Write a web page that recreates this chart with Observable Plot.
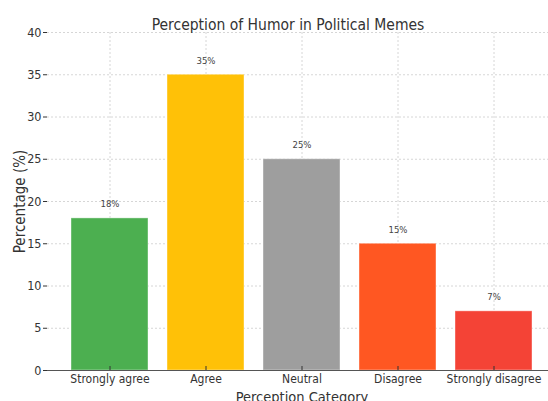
<!DOCTYPE html>
<html>
<head>
<meta charset="utf-8">
<script src="https://cdn.jsdelivr.net/npm/d3@7"></script>
<script src="https://cdn.jsdelivr.net/npm/@observablehq/plot@0.6"></script>
<style>
  html, body { margin: 0; padding: 0; background: #fff; }
  #chart svg { display: block; font-stretch: condensed; }
</style>
</head>
<body>
<div id="chart"></div>
<script>
const categories = ["Strongly agree", "Agree", "Neutral", "Disagree", "Strongly disagree"];
const percentages = [18, 35, 25, 15, 7];
const barColors = ["#4CAF50", "#FFC107", "#9E9E9E", "#FF5722", "#F44336"];
const yTicks = [0, 5, 10, 15, 20, 25, 30, 35, 40];
const titleText = "Perception of Humor in Political Memes";

const data = categories.map((c, i) => ({category: c, value: percentages[i], color: barColors[i]}));

const font = "'DejaVu Sans Condensed', 'DejaVu Sans', sans-serif";

const chart = Plot.plot({
  width: 548,
  height: 401,
  marginTop: 32,
  marginBottom: 31,
  marginLeft: 47,
  marginRight: -8,
  style: {fontFamily: font, fontSize: "11px", color: "#333", background: "#fff", overflow: "visible"},
  x: {domain: categories, paddingInner: 0.2, paddingOuter: 0.25, label: null},
  y: {domain: [0, 40], label: null},
  marks: [
    Plot.gridY(yTicks, {stroke: "#bbb", strokeOpacity: 0.6, strokeDasharray: "2,2"}),
    Plot.gridX(categories, {stroke: "#bbb", strokeOpacity: 0.6, strokeDasharray: "2,2"}),
    Plot.barY(data, {x: "category", y: "value", fill: "color", stroke: "#fff", strokeOpacity: 0.4, strokeWidth: 1}),
    Plot.text(data, {x: "category", y: "value", text: d => d.value + "%", dy: -14, fontSize: 9.5, fill: "#444"}),
    Plot.axisY(yTicks, {tickSize: 4, tickPadding: 2, fontSize: 12.5, stroke: "#333", color: "#333", label: null}),
    Plot.axisY({ticks: [], label: "Percentage (%)", labelAnchor: "center", labelOffset: 33, labelArrow: "none", fontSize: 15, color: "#333"}),
    Plot.axisX({tickSize: -4, tickPadding: 8, fontSize: 12, stroke: "#333", color: "#333", label: null}),
    Plot.axisX({ticks: [], label: "Perception Category", labelAnchor: "center", labelOffset: 31, labelArrow: "none", fontSize: 14.5, color: "#333"}),
    Plot.ruleX([0], {frameAnchor: "left", stroke: "#555", strokeWidth: 1.2}),
    Plot.ruleY([0], {stroke: "#555", strokeWidth: 1.2}),
    Plot.text([titleText], {frameAnchor: "top", dx: -14, dy: -14, fontSize: 15.5, fill: "#333"})
  ]
});

document.getElementById("chart").appendChild(chart);
</script>
</body>
</html>
